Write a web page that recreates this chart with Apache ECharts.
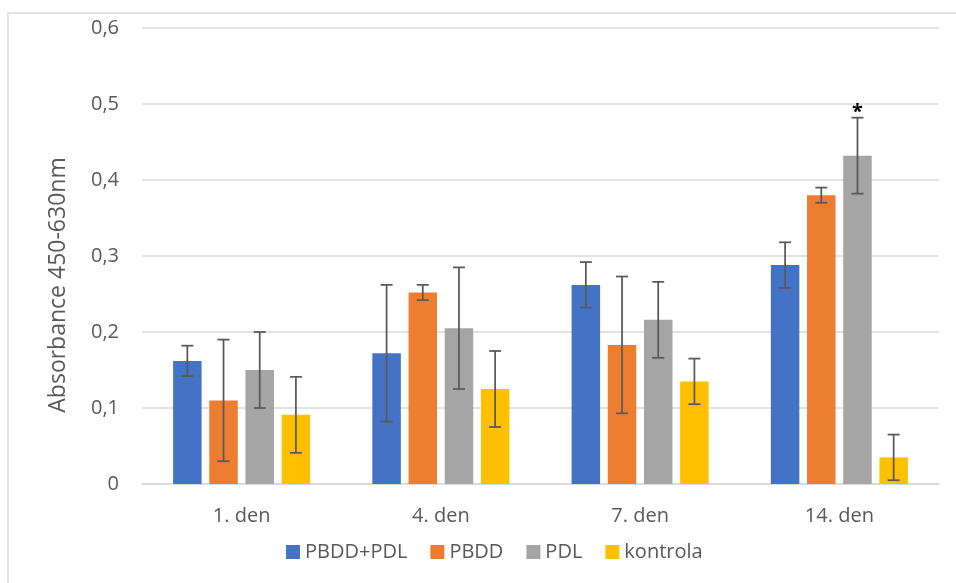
<!DOCTYPE html>
<html>
<head>
<meta charset="utf-8">
<script src="https://cdn.jsdelivr.net/npm/echarts@6/dist/echarts.min.js"></script>
<style>
  html, body { margin: 0; padding: 0; background: #fff; }
  #chart { width: 956px; height: 583px; }
</style>
</head>
<body>
<div id="chart"></div>
<script>
// Absorbance (450-630 nm) measured on days 1, 4, 7 and 14
const categories = ['1. den', '4. den', '7. den', '14. den'];
const seriesNames = ['PBDD+PDL', 'PBDD', 'PDL', 'kontrola'];
const colors = ['#4472C4', '#ED7D31', '#A5A5A5', '#FFC000'];

const meanPbddPdl = [0.162, 0.172, 0.262, 0.288];
const meanPbdd    = [0.110, 0.252, 0.183, 0.380];
const meanPdl     = [0.150, 0.205, 0.216, 0.432];
const meanKontrola = [0.091, 0.125, 0.135, 0.035];

const sdPbddPdl = [0.02, 0.09, 0.03, 0.03];
const sdPbdd    = [0.08, 0.01, 0.09, 0.01];
const sdPdl     = [0.05, 0.08, 0.05, 0.05];
const sdKontrola = [0.05, 0.05, 0.03, 0.03];

// significance markers drawn above the error bars
const sigPbddPdl = ['', '', '', ''];
const sigPbdd    = ['', '', '', ''];
const sigPdl     = ['', '', '', '*'];
const sigKontrola = ['', '', '', ''];

const yTicks = ['0', '0,1', '0,2', '0,3', '0,4', '0,5', '0,6'];

const means = [meanPbddPdl, meanPbdd, meanPdl, meanKontrola];
const sds = [sdPbddPdl, sdPbdd, sdPdl, sdKontrola];
const sigs = [sigPbddPdl, sigPbdd, sigPdl, sigKontrola];

const FONT = '"Open Sans", "Noto Sans", sans-serif';
const TEXT = '#595959';
const BAR_RATIO = 0.143;   // bar width as share of category band
const GAP_RATIO = 0.27;    // gap between bars as share of bar width

const chart = echarts.init(document.getElementById('chart'));

const barSeries = seriesNames.map((name, i) => ({
  name: name,
  type: 'bar',
  data: means[i],
  barWidth: (BAR_RATIO * 100) + '%',
  barGap: (GAP_RATIO * 100) + '%',
  itemStyle: { color: colors[i] },
  z: 2
}));

function errorSeries(i) {
  return {
    type: 'custom',
    silent: true,
    z: 5,
    data: categories.map((c, k) => [k, means[i][k], sds[i][k]]),
    renderItem: function (params, api) {
      const k = api.value(0);
      const v = api.value(1);
      const e = api.value(2);
      const mark = sigs[i][k];
      const band = api.size([1, 0])[0];
      const bw = band * BAR_RATIO;
      const step = bw * (1 + GAP_RATIO);
      const center = api.coord([k, v]);
      const x = center[0] + (i - 1.5) * step;
      const yTop = api.coord([k, v + e])[1];
      const yBot = api.coord([k, Math.max(v - e, 0)])[1];
      const cap = 6;
      const st = { stroke: '#595959', lineWidth: 1.75 };
      const children = [
        { type: 'line', shape: { x1: x, y1: yTop, x2: x, y2: yBot }, style: st },
        { type: 'line', shape: { x1: x - cap, y1: yTop, x2: x + cap, y2: yTop }, style: st },
        { type: 'line', shape: { x1: x - cap, y1: yBot, x2: x + cap, y2: yBot }, style: st }
      ];
      if (mark) {
        children.push({
          type: 'text',
          x: x, y: yTop - 5,
          style: {
            text: mark, fill: '#000', font: 'bold 20px ' + FONT,
            align: 'center', verticalAlign: 'middle'
          }
        });
      }
      return { type: 'group', children: children };
    }
  };
}

const option = {
  backgroundColor: '#fff',
  animation: false,
  textStyle: { fontFamily: FONT },
  grid: { left: 142, right: 17, top: 28, bottom: 99, containLabel: false },
  legend: {
    data: seriesNames,
    bottom: 16,
    left: 281,
    icon: 'rect',
    itemWidth: 14,
    itemHeight: 14,
    itemGap: 23,
    textStyle: { color: TEXT, fontSize: 20, fontFamily: FONT }
  },
  xAxis: {
    type: 'category',
    data: categories,
    axisLine: { lineStyle: { color: '#d9d9d9', width: 1.5 } },
    axisTick: { show: false },
    axisLabel: { color: TEXT, fontSize: 20, fontFamily: FONT, margin: 22 }
  },
  yAxis: {
    type: 'value',
    min: 0,
    max: 0.6,
    interval: 0.1,
    axisLine: { show: false },
    axisTick: { show: false },
    splitLine: { lineStyle: { color: '#d9d9d9', width: 1.5 } },
    axisLabel: {
      color: TEXT, fontSize: 20, fontFamily: FONT, margin: 23,
      formatter: function (val) { return yTicks[Math.round(val * 10)]; }
    }
  },
  graphic: [
    {
      type: 'rect',
      shape: { x: 8, y: 13, width: 1200, height: 1200 },
      style: { fill: 'none', stroke: '#d9d9d9', lineWidth: 1.5 },
      silent: true
    },
    {
      type: 'text',
      x: 58, y: 285,
      rotation: Math.PI / 2,
      style: {
        text: 'Absorbance 450-630nm',
        fill: TEXT,
        font: '23px ' + FONT,
        align: 'center',
        verticalAlign: 'middle'
      }
    }
  ],
  series: barSeries.concat(seriesNames.map((n, i) => errorSeries(i)))
};

chart.setOption(option);
</script>
</body>
</html>
